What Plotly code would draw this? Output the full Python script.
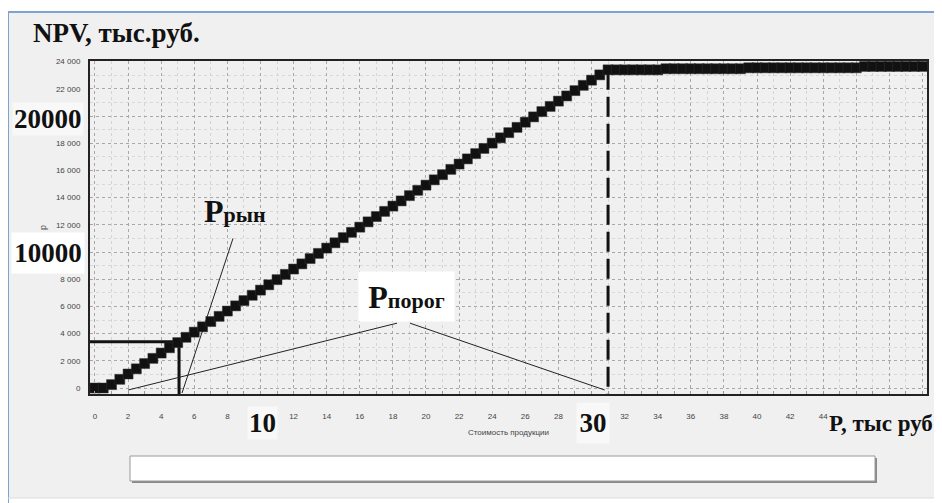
import plotly.graph_objects as go

# ---------------- data ----------------
price = [0, 0.5, 1, 1.5, 2, 2.5, 3, 3.5, 4, 4.5, 5, 5.5, 6, 6.5, 7, 7.5, 8, 8.5, 9, 9.5,
         10, 10.5, 11, 11.5, 12, 12.5, 13, 13.5, 14, 14.5, 15, 15.5, 16, 16.5, 17, 17.5,
         18, 18.5, 19, 19.5, 20, 20.5, 21, 21.5, 22, 22.5, 23, 23.5, 24, 24.5, 25, 25.5,
         26, 26.5, 27, 27.5, 28, 28.5, 29, 29.5, 30, 30.5, 31, 31.5, 32, 32.5, 33, 33.5,
         34, 34.5, 35, 35.5, 36, 36.5, 37, 37.5, 38, 38.5, 39, 39.5, 40, 40.5, 41, 41.5,
         42, 42.5, 43, 43.5, 44, 44.5, 45, 45.5, 46, 46.5, 47, 47.5, 48, 48.5, 49, 49.5, 50]
npv = [0, 0, 250, 640, 1030, 1410, 1800, 2180, 2570, 2960, 3340, 3730, 4110, 4500, 4890,
       5270, 5660, 6040, 6430, 6820, 7200, 7590, 7970, 8360, 8750, 9130, 9520, 9900, 10290,
       10680, 11060, 11450, 11830, 12220, 12610, 12990, 13380, 13760, 14150, 14540, 14920,
       15310, 15690, 16080, 16470, 16850, 17240, 17620, 18010, 18400, 18780, 19170, 19550,
       19940, 20330, 20710, 21100, 21480, 21870, 22260, 22640, 23030, 23400, 23400, 23400,
       23400, 23400, 23400, 23400, 23480, 23480, 23480, 23480, 23480, 23480, 23480, 23480,
       23480, 23480, 23550, 23550, 23550, 23550, 23550, 23550, 23550, 23550, 23550, 23550,
       23550, 23550, 23550, 23550, 23650, 23650, 23650, 23650, 23650, 23650, 23650, 23650]

p_market = 5.08        # Pрын
npv_market = 3400
p_threshold = 31.0     # Pпорог
npv_threshold = 23400

x_range = [-0.3, 50.27]
y_range = [-440, 24050]

x_tickvals = list(range(0, 51, 2))
x_ticktext = ["0", "2", "4", "6", "8", "", "12", "14", "16", "18", "20", "22", "24",
              "26", "28", "", "32", "34", "36", "38", "40", "42", "44", "", "", ""]
y_tickvals = list(range(0, 24001, 2000))
y_ticktext = ["0", "2 000", "4 000", "6 000", "8 000", "", "12 000", "14 000",
              "16 000", "18 000", "", "22 000", "24 000"]

# leader lines of the labels (data coordinates)
lead_market_x = [8.34, 5.26]
lead_market_y = [11005, -367]
lead_thr_left_x = [18.25, 2.0]
lead_thr_left_y = [4770, -147]
lead_thr_right_x = [19.03, 30.8]
lead_thr_right_y = [4770, -147]

# ---------------- layout geometry ----------------
# the page body has an 8px margin, so the figure is drawn 8px smaller and
# all reference-pixel positions are shifted by that offset
OFF = 8
W, H = 942 - OFF, 503 - OFF
L, R, T, B = 90 - OFF, 927 - OFF, 61 - OFF, 394 - OFF


def px(x):
    return (x - OFF - L) / (R - L)


def py(y):
    return (B - (y - OFF)) / (B - T)


fig = go.Figure()

# market price lines
fig.add_trace(go.Scatter(x=[x_range[0], p_market, p_market],
                         y=[npv_market, npv_market, y_range[0]],
                         mode="lines", line=dict(color="#111", width=3),
                         hoverinfo="skip", showlegend=False))
# threshold dashed line
fig.add_trace(go.Scatter(x=[p_threshold, p_threshold], y=[npv_threshold, y_range[0]],
                         mode="lines", line=dict(color="#111", width=3, dash="20px,7px"),
                         hoverinfo="skip", showlegend=False))
# leader lines
for lx, ly in [(lead_market_x, lead_market_y), (lead_thr_left_x, lead_thr_left_y),
               (lead_thr_right_x, lead_thr_right_y)]:
    fig.add_trace(go.Scatter(x=lx, y=ly, mode="lines",
                             line=dict(color="#222", width=1),
                             hoverinfo="skip", showlegend=False))

# NPV curve
fig.add_trace(go.Scatter(x=price, y=npv, mode="markers",
                         marker=dict(symbol="square", size=10, color="#111",
                                     line=dict(color="#333", width=0.5)),
                         showlegend=False))

serif = "Liberation Serif, Times New Roman, serif"
sans = "Liberation Sans, Arial, sans-serif"

annotations = [
    dict(x=px(116), y=py(33), text="<b>NPV, тыс.руб.</b>",
         font=dict(family=serif, size=27, color="#111")),
    dict(x=px(48), y=py(119), text="<b>20000</b>", bgcolor="#f8f8f8",
         font=dict(family=serif, size=27, color="#111")),
    dict(x=px(48), y=py(253), text="<b>10000</b>", bgcolor="#ffffff",
         width=70, height=38, font=dict(family=serif, size=27, color="#111")),
    dict(x=px(262), y=py(423), text="<b>10</b>", bgcolor="#f8f8f8",
         font=dict(family=serif, size=27, color="#111")),
    dict(x=px(593), y=py(423), text="<b>30</b>", bgcolor="#f8f8f8",
         width=30, height=38, font=dict(family=serif, size=27, color="#111")),
    dict(x=px(881), y=py(423), text="<b>P, тыс руб</b>",
         font=dict(family=serif, size=23, color="#111")),
    dict(x=px(508), y=py(432), text="Стоимость продукции",
         font=dict(family=sans, size=8, color="#444")),
    dict(x=px(235), y=py(211),
         text="<b><span style='font-size:32px'>P</span><span style='font-size:22px'>рын</span></b>",
         font=dict(family=serif, size=22, color="#111")),
    dict(x=px(406), y=py(296),
         text="<b><span style='font-size:32px'>P</span><span style='font-size:22px'>порог</span></b>",
         bgcolor="#ffffff", width=93, height=47,
         font=dict(family=serif, size=22, color="#111")),
    dict(x=px(43), y=py(228), text="р", textangle=-90,
         font=dict(family=sans, size=9, color="#555")),
]
for a in annotations:
    a.update(xref="paper", yref="paper", showarrow=False,
             xanchor="center", yanchor="middle")

shapes = [
    # outer light-grey window with blue frame
    dict(type="rect", xref="paper", yref="paper", x0=px(8), y0=py(498), x1=px(936), y1=py(12),
         fillcolor="#f0f0f0", line=dict(width=0), layer="below"),
    dict(type="line", xref="paper", yref="paper", x0=px(8), y0=py(12), x1=px(942), y1=py(12),
         line=dict(color="#7fa3d0", width=2), layer="below"),
    dict(type="line", xref="paper", yref="paper", x0=px(8), y0=py(12), x1=px(8), y1=py(503),
         line=dict(color="#7fa3d0", width=2), layer="below"),
    dict(type="line", xref="paper", yref="paper", x0=px(936), y0=py(12), x1=px(936), y1=py(498),
         line=dict(color="#dcdcdc", width=1), layer="below"),
    dict(type="line", xref="paper", yref="paper", x0=px(8), y0=py(498), x1=px(936), y1=py(498),
         line=dict(color="#dcdcdc", width=1), layer="below"),
    # bottom white box (with shadow)
    dict(type="rect", xref="paper", yref="paper", x0=px(132), y0=py(483), x1=px(877), y1=py(458),
         fillcolor="#8a8a8a", line=dict(width=0)),
    dict(type="rect", xref="paper", yref="paper", x0=px(130), y0=py(481), x1=px(875), y1=py(456),
         fillcolor="#ffffff", line=dict(color="#9a9a9a", width=1)),
]

fig.update_layout(
    width=W, height=H,
    margin=dict(l=L, r=W - R, t=T, b=H - B, pad=0),
    paper_bgcolor="#ffffff",
    plot_bgcolor="#f0f0f0",
    annotations=annotations,
    shapes=shapes,
    showlegend=False,
)
fig.update_xaxes(range=x_range, tickvals=x_tickvals, ticktext=x_ticktext,
                 tickfont=dict(family=sans, size=8, color="#444"),
                 ticks="", ticklabelstandoff=13,
                 showgrid=True, gridcolor="#a8a8a8", griddash="dot", gridwidth=1,
                 minor=dict(dtick=1, showgrid=True, gridcolor="#d4d4d4", griddash="dot",
                            ticks="inside", ticklen=3, tickcolor="#999"),
                 showline=True, linecolor="#222", linewidth=2, mirror=True,
                 zeroline=False)
fig.update_yaxes(range=y_range, tickvals=y_tickvals, ticktext=y_ticktext,
                 tickfont=dict(family=sans, size=8, color="#444"),
                 ticks="", ticklabelstandoff=6,
                 showgrid=True, gridcolor="#a8a8a8", griddash="dot", gridwidth=1,
                 minor=dict(dtick=1000, showgrid=True, gridcolor="#d8d8d8", griddash="dot"),
                 showline=True, linecolor="#222", linewidth=2, mirror=True,
                 zeroline=False)

fig.write_html("out.html")
